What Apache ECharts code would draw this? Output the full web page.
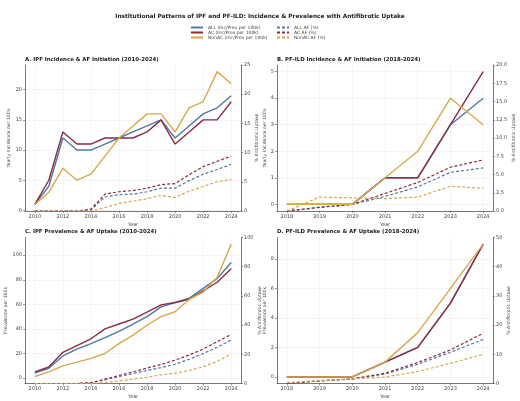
<!DOCTYPE html>
<html>
<head>
<meta charset="utf-8">
<script src="https://cdn.jsdelivr.net/npm/echarts@6/dist/echarts.min.js"></script>
<style>html,body{margin:0;padding:0;background:#fff}#chart{width:520px;height:401px}</style>
</head>
<body>
<div id="chart"></div>
<script>
// years
var yearsIpf = [2010, 2011, 2012, 2013, 2014, 2015, 2016, 2017, 2018, 2019, 2020, 2021, 2022, 2023, 2024];
var yearsPf = [2018, 2019, 2020, 2021, 2022, 2023, 2024];

// A. IPF incidence (per 100k) + AF initiation (%)
var ipfIncAll = [1, 4, 12, 10, 10, 11, 12, 13, 14, 15, 12, 14, 16, 17, 19];
var ipfIncAc = [1, 5, 13, 11, 11, 12, 12, 12, 13, 15, 11, 13, 15, 15, 18];
var ipfIncNon = [1, 3, 7, 5, 6, 9, 12, 14, 16, 16, 13, 17, 18, 23, 21];
var ipfInitAll = [0, 0, 0, 0, 0.2, 2.4, 2.8, 2.9, 3.3, 3.9, 3.9, 5.2, 6.3, 7.1, 8.0];
var ipfInitAc = [0, 0, 0, 0, 0.3, 2.9, 3.3, 3.5, 3.9, 4.5, 4.7, 6.2, 7.6, 8.5, 9.4];
var ipfInitNon = [0, 0, 0, 0, 0, 0.6, 1.3, 1.7, 2.1, 2.7, 2.3, 3.4, 4.2, 5.0, 5.4];

// B. PF-ILD incidence + AF initiation
var pfIncAll = [0, 0, 0, 1, 1, 3, 4];
var pfIncAc = [0, 0, 0, 1, 1, 3, 5];
var pfIncNon = [0, 0, 0, 1, 2, 4, 3];
var pfInitAll = [0, 0.5, 0.9, 2.0, 3.3, 5.3, 5.9];
var pfInitAc = [0, 0.5, 0.9, 2.4, 3.9, 6.0, 7.0];
var pfInitNon = [0, 1.9, 1.8, 1.7, 1.9, 3.4, 3.1];

// C. IPF prevalence + AF uptake
var ipfPrevAll = [4, 8, 18, 23.5, 28, 33, 38, 44, 50, 58, 61.5, 65, 73, 81, 94];
var ipfPrevAc = [5, 9, 21, 26.5, 32, 40, 44, 48, 53.7, 59.6, 61.5, 64, 71, 78, 89];
var ipfPrevNon = [1.3, 5, 10, 13, 16, 20, 28, 35, 43, 50, 54, 64, 70, 82, 109];
var ipfUpAll = [0, 0, 0, 0, 0.5, 2.5, 4.8, 6.8, 8.9, 10.9, 13.2, 16.6, 20.5, 24.8, 29.8];
var ipfUpAc = [0, 0, 0, 0, 0.5, 3, 5.5, 8, 10.5, 13, 16, 19.5, 23.6, 28.6, 33.6];
var ipfUpNon = [0, 0, 0, 0, 0, 0.7, 1.8, 3, 4.3, 5.9, 7, 8.9, 11.4, 15.2, 20.2];

// D. PF-ILD prevalence + AF uptake
var pfPrevAll = [0, 0, 0, 1, 2, 5, 9];
var pfPrevAc = [0, 0, 0, 1, 2, 5, 9];
var pfPrevNon = [0, 0, 0, 1, 3, 6, 9];
var pfUpAll = [0, 0.9, 1.5, 3.2, 6.6, 10.7, 15.1];
var pfUpAc = [0, 0.9, 1.6, 3.5, 7.2, 11.5, 17.2];
var pfUpNon = [0.3, 1.0, 1.6, 2.2, 4.1, 6.9, 10];

// tick labels
var ticksIpfX = [2010, 2012, 2014, 2016, 2018, 2020, 2022, 2024];
var ticksPfX = [2018, 2019, 2020, 2021, 2022, 2023, 2024];
var ticksA = [0, 5, 10, 15, 20];
var ticksAr = [0, 5, 10, 15, 20, 25];
var ticksB = [0, 1, 2, 3, 4, 5];
var ticksBr = [0, 2.5, 5, 7.5, 10, 12.5, 15, 17.5, 20];
var ticksC = [0, 20, 40, 60, 80, 100];
var ticksCr = [0, 20, 40, 60, 80, 100];
var ticksD = [0, 2, 4, 6, 8];
var ticksDr = [0, 10, 20, 30, 40, 50];

var names = ['ALL (Inc/Prev per 100k)', 'AC (Inc/Prev per 100k)', 'NonAC (Inc/Prev per 100k)',
             'ALL AF (%)', 'AC AF (%)', 'NonAC AF (%)'];
var colors = ['#4f78a6', '#8b2c40', '#d8a84f'];

var chart = echarts.init(document.getElementById('chart'))

var axisColor = '#555';
var txtColor = '#444';
var font = 'DejaVu Sans';

function pairs(xs, ys) {
  return xs.map(function (x, i) { return [x, ys[i]] })
}

var grids = [], xAxes = [], yAxes = [], series = [];

function panel(left, top, years, xmin, xmax, xticks, leftData, rightData, ly, ry) {
  var gi = grids.length;
  grids.push({left: left, top: top, width: 216, height: 146});
  xAxes.push({
    type: 'value', gridIndex: gi, min: xmin, max: xmax,
    name: 'Year', nameLocation: 'middle', nameGap: 11,
    nameTextStyle: {fontSize: 4.8, color: txtColor, fontFamily: font},
    axisLine: {show: true, onZero: false, lineStyle: {color: axisColor, width: 0.8}},
    axisTick: {show: true, length: 2, customValues: xticks, lineStyle: {color: axisColor, width: 0.6}},
    axisLabel: {customValues: xticks, fontSize: 5, color: txtColor, margin: 3, fontFamily: font,
      formatter: function (v) { return String(v) }},
    splitLine: {show: true, lineStyle: {color: '#ececec', width: 0.6}}
  });
  var li = yAxes.length;
  yAxes.push({
    type: 'value', gridIndex: gi, position: 'left', min: ly.min, max: ly.max,
    name: ly.name, nameLocation: 'middle', nameGap: ly.gap, nameRotate: 90,
    nameTextStyle: {fontSize: 4.6, color: txtColor, fontFamily: font},
    axisLine: {show: true, onZero: false, lineStyle: {color: axisColor, width: 0.8}},
    axisTick: {show: true, length: 2, customValues: ly.ticks, lineStyle: {color: axisColor, width: 0.6}},
    axisLabel: {customValues: ly.ticks, fontSize: 5, color: txtColor, margin: 3, fontFamily: font},
    splitLine: {show: true, lineStyle: {color: '#ececec', width: 0.6}}
  });
  yAxes.push({
    type: 'value', gridIndex: gi, position: 'right', min: ry.min, max: ry.max,
    name: '% Antifibrotic Uptake', nameLocation: 'middle', nameGap: ry.gap, nameRotate: 90,
    nameTextStyle: {fontSize: 4.6, color: txtColor, fontFamily: font},
    axisLine: {show: true, onZero: false, lineStyle: {color: axisColor, width: 0.8}},
    axisTick: {show: true, length: 2, customValues: ry.ticks, lineStyle: {color: axisColor, width: 0.6}},
    axisLabel: {customValues: ry.ticks, fontSize: 5, color: txtColor, margin: 3, fontFamily: font,
      formatter: ry.fmt},
    splitLine: {show: false}
  });
  leftData.forEach(function (d, k) {
    series.push({
      name: names[k], type: 'line', xAxisIndex: gi, yAxisIndex: li,
      data: pairs(years, d), symbol: 'none', z: 3 + k,
      lineStyle: {color: colors[k], width: 1.4}, itemStyle: {color: colors[k]}
    });
  });
  rightData.forEach(function (d, k) {
    series.push({
      name: names[k + 3], type: 'line', xAxisIndex: gi, yAxisIndex: li + 1,
      data: pairs(years, d), symbol: 'none', z: 2,
      lineStyle: {color: colors[k], width: 1.2, type: [3, 2]}, itemStyle: {color: colors[k]}
    });
  });
}

panel(25, 65, yearsIpf, 2009.3, 2024.7, ticksIpfX,
  [ipfIncAll, ipfIncAc, ipfIncNon], [ipfInitAll, ipfInitAc, ipfInitNon],
  {min: -0.1, max: 24.1, ticks: ticksA, name: 'Yearly Incidence per 100k', gap: 10.5},
  {min: 0, max: 25, ticks: ticksAr, gap: 13.5});
panel(277, 65, yearsPf, 2017.7, 2024.3, ticksPfX,
  [pfIncAll, pfIncAc, pfIncNon], [pfInitAll, pfInitAc, pfInitNon],
  {min: -0.25, max: 5.25, ticks: ticksB, name: 'Yearly Incidence per 100k', gap: 7.5},
  {min: 0, max: 20, ticks: ticksBr, gap: 15, fmt: function (v) { return v.toFixed(1) }});
panel(25, 237.5, yearsIpf, 2009.3, 2024.7, ticksIpfX,
  [ipfPrevAll, ipfPrevAc, ipfPrevNon], [ipfUpAll, ipfUpAc, ipfUpNon],
  {min: -4.4, max: 114.4, ticks: ticksC, name: 'Prevalence per 100k', gap: 15},
  {min: 0, max: 100, ticks: ticksCr, gap: 13.5});
panel(277, 237.5, yearsPf, 2017.7, 2024.3, ticksPfX,
  [pfPrevAll, pfPrevAc, pfPrevNon], [pfUpAll, pfUpAc, pfUpNon],
  {min: -0.45, max: 9.45, ticks: ticksD, name: 'Prevalence per 100k', gap: 7.8},
  {min: 0, max: 50, ticks: ticksDr, gap: 11.2});

var titleStyle = {fontSize: 5.4, fontWeight: 'bold', color: '#222', fontFamily: font};
var legendBase = {
  orient: 'vertical', top: 25, padding: 0,
  itemWidth: 12, itemHeight: 6, itemGap: 0,
  itemStyle: {opacity: 0},
  textStyle: {fontSize: 4.5, color: txtColor, fontFamily: font}
};

chart.setOption({
  backgroundColor: '#fff',
  animation: false,
  title: [
    {text: 'Institutional Patterns of IPF and PF-ILD: Incidence & Prevalence with Antifibrotic Uptake',
     left: 'center', top: 13, padding: 0, textStyle: {fontSize: 5.8, fontWeight: 'bold', color: '#222', fontFamily: font}},
    {text: 'A. IPF Incidence & AF Initiation (2010-2024)', left: 25, top: 57, padding: 0, textStyle: titleStyle},
    {text: 'B. PF-ILD Incidence & AF Initiation (2018-2024)', left: 277, top: 57, padding: 0, textStyle: titleStyle},
    {text: 'C. IPF Prevalence & AF Uptake (2010-2024)', left: 25, top: 229.5, padding: 0, textStyle: titleStyle},
    {text: 'D. PF-ILD Prevalence & AF Uptake (2018-2024)', left: 277, top: 229.5, padding: 0, textStyle: titleStyle}
  ],
  legend: [
    Object.assign({data: names.slice(0, 3), left: 190}, legendBase),
    Object.assign({data: names.slice(3), left: 276}, legendBase)
  ],
  grid: grids,
  xAxis: xAxes,
  yAxis: yAxes,
  series: series
})
</script>
</body>
</html>
